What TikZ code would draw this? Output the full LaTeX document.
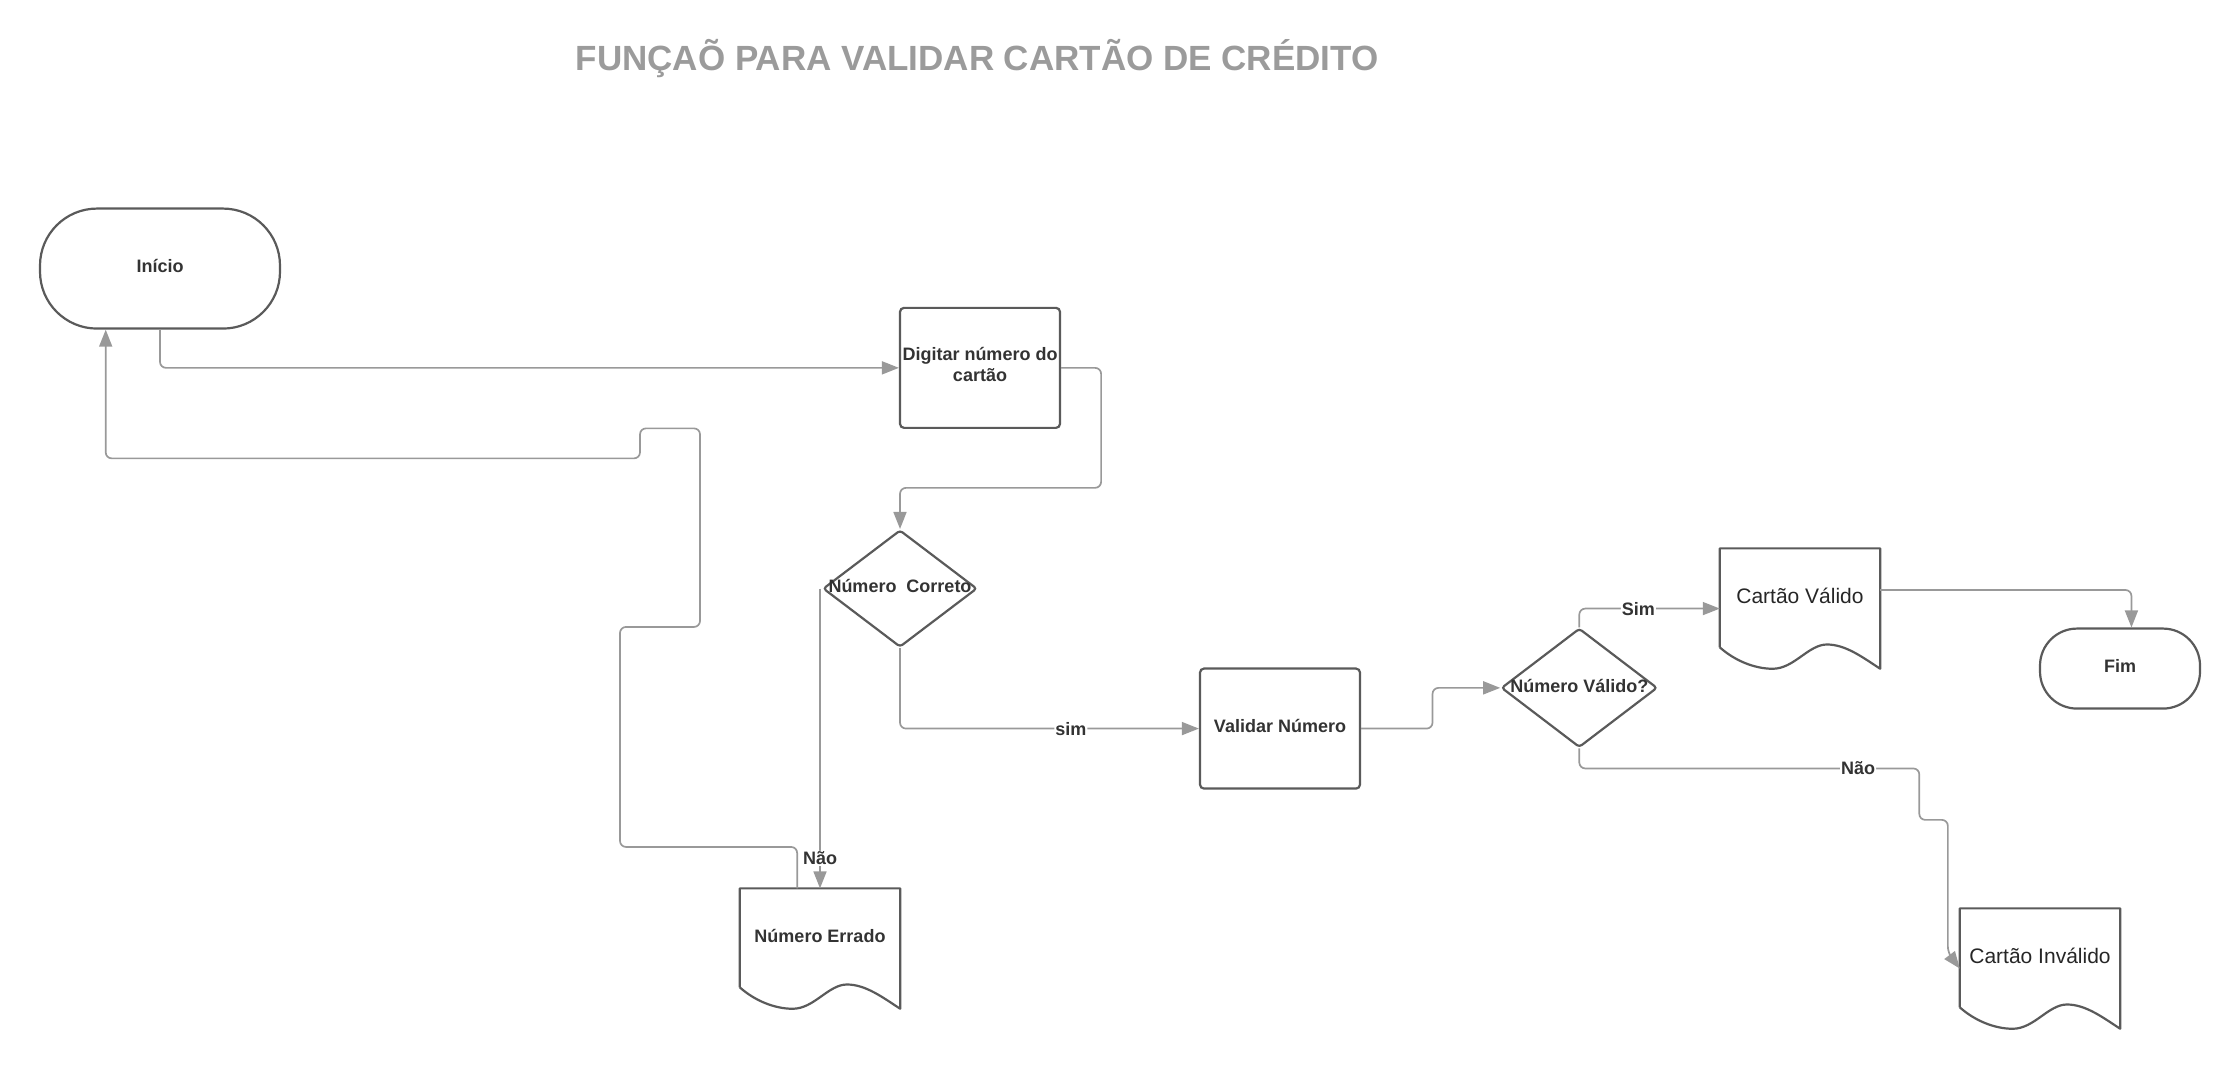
\documentclass[tikz,border=0pt]{standalone}
\usepackage{fontspec}
\setmainfont{Liberation Sans}
\usetikzlibrary{shapes.geometric,arrows.meta,calc}
\definecolor{edgecol}{HTML}{5A5A5A}
\definecolor{conncol}{HTML}{999999}
\definecolor{txt}{HTML}{333333}
\definecolor{titlecol}{HTML}{9B9B9B}
\newcommand\docwave[1]{%
  \draw[shapeline,line join=round]
    ($(#1.south west)+(0,-15)$) -- (#1.north west) -- (#1.north east) -- (#1.south east)
    .. controls ($(#1.south west)+(100,-8)$) and ($(#1.south west)+(88,-17)$) .. ($(#1.south west)+(75,-17)$)
    .. controls ($(#1.south west)+(62,-17)$) and ($(#1.south west)+(52,0)$) .. ($(#1.south west)+(37,0)$)
    .. controls ($(#1.south west)+(24,0)$) and ($(#1.south west)+(10,-6)$) .. ($(#1.south west)+(0,-15)$);}
\begin{document}
\begin{tikzpicture}[x=1.4286pt,y=-1.4286pt,
  shapeline/.style={draw=edgecol,line width=2.2pt},
  lbl/.style={font=\fontsize{18}{21}\selectfont\bfseries,text=txt},
  reglbl/.style={font=\fontsize{21}{25}\selectfont,text=black!85},
  box/.style={shapeline,rectangle,rounded corners=4pt,minimum width=160pt,minimum height=120pt,inner sep=0pt,align=center,lbl},
  startend/.style={shapeline,rectangle,inner sep=0pt,lbl},
  dec/.style={shapeline,diamond,inner sep=0pt,rounded corners=3pt,lbl},
  doc/.style={rectangle,draw=none,minimum width=160pt,minimum height=120pt,inner sep=0pt},
  conn/.style={draw=conncol,line width=1.7pt,rounded corners=6pt,-{Triangle[length=17pt,width=13pt]}},
  elbl/.style={lbl,fill=white,inner sep=1pt}]
\useasboundingbox (0,0) rectangle (1568,748);
\node[font=\fontsize{35}{40}\selectfont\bfseries,text=titlecol] (title) at (684,41) {FUNÇAÕ PARA VALIDAR CARTÃO DE CRÉDITO};
% nodes
\node[startend,rounded corners=57pt,minimum width=240pt,minimum height=120pt,label={[lbl,yshift=3pt]center:Início}] (ini) at (112,188) {};
\node[box,label={[lbl,align=center,yshift=3pt]center:Digitar número do\\cartão}] (dig) at (686,257.5) {};
\node[dec,minimum width=154pt,minimum height=117pt,label={[lbl,yshift=3pt]center:Número\ \ Correto}] (nc) at (630,412) {};
\node[box,label={[lbl,yshift=3pt]center:Validar Número}] (vn) at (896,510) {};
\node[dec,minimum width=156pt,minimum height=119pt,label={[lbl,yshift=2pt]center:Número Válido?}] (nv) at (1105.5,481.5) {};
\node[doc,label={[reglbl,yshift=13pt]center:Cartão Válido}] (cv) at (1260,426) {};
\docwave{cv}
\node[startend,rounded corners=37pt,minimum width=160pt,minimum height=80pt,label={[lbl,yshift=3pt]center:Fim}] (fim) at (1484,468) {};
\node[doc,label={[reglbl,yshift=13pt]center:Cartão Inválido}] (ci) at (1428,678) {};
\docwave{ci}
\node[doc,label={[lbl,yshift=13pt]center:Número Errado}] (ne) at (574,664) {};
\docwave{ne}
% connectors
\draw[conn] (ini.south) |- (dig.west);
\draw[conn] (dig.east) -- ++(28,0) -- ++(0,84) -| (nc.north);
\draw[conn] (nc.south) |- node[elbl,pos=0.786] {sim} (vn.west);
\draw[conn] (nc.west -| ne.north) -- node[elbl,pos=0.9] {Não} (ne.north);
\draw[conn] ($(ne.north)+(-16,0)$) -- ++(0,-29) -- ++(-124,0) -- ++(0,-154) -- ++(56,0) -- ++(0,-139) -- ++(-42,0) -- ++(0,21) -| ($(ini.south)+(-38,0)$);
\draw[conn] (vn.east) -- ++(50,0) |- (nv.west);
\draw[conn] (nv.north) |- node[elbl,pos=0.71] {Sim} (cv.west);
\draw[conn] (nv.south) -- ++(0,14) -- ++(238,0) node[elbl,pos=0.82] {Não} -- ++(0,36) -- ++(20,0) -- ++(0,93) -- (ci.west);
\draw[conn] ($(cv.east)+(0,-13)$) -| ($(fim.north)+(8,0)$);
\end{tikzpicture}
\end{document}
